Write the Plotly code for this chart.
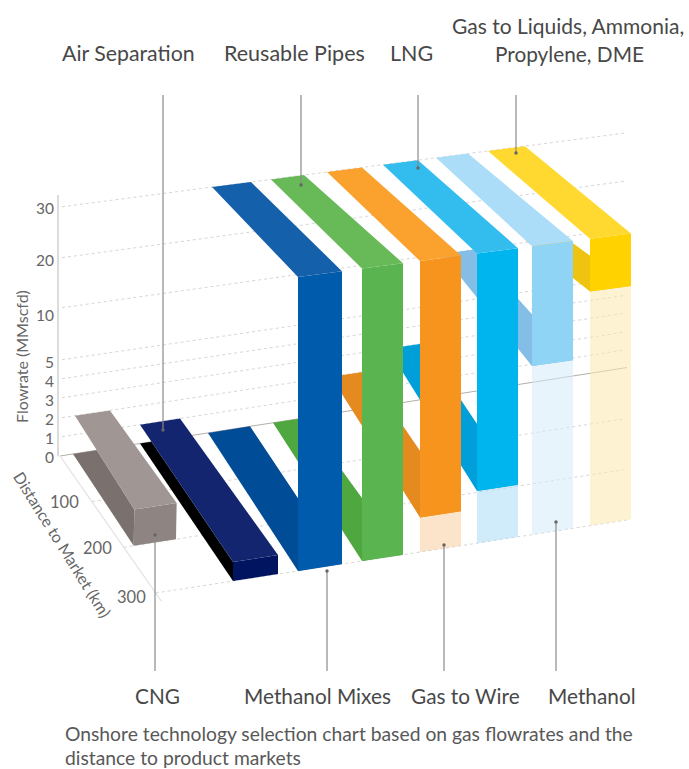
import numpy as np
import plotly.graph_objects as go

# ---- data ----
technologies = ["CNG", "Air Separation", "Methanol Mixes", "Reusable Pipes",
                "Gas to Wire", "LNG", "Methanol", "Gas to Liquids, Ammonia, Propylene, DME"]
flow_low = [0, 0, 0, 0, 2, 3, 10, 20]
flow_high = [2, 1, 30, 30, 30, 30, 30, 30]
distance_max = [200, 300, 300, 300, 300, 300, 300, 300]
flow_ticks = [0, 1, 2, 3, 4, 5, 10, 20, 30]
distance_ticks = [100, 200, 300]

# ---- layout of the oblique view (pixels of the 689x769 canvas) ----
BACK_H = [0, 19, 38, 58, 77, 96, 148, 198, 249]     # height of flow ticks on back wall
FRONT_H = [0, 19, 35, 53, 70, 88, 172, 240, 294]    # height of flow ticks on front plane
BACK_L_FLOOR = [73, 140, 208, 273, 331, 388, 442, 495]
BACK_L_TOP = [86, 140, 212, 271, 327, 383, 436, 488]
BACK_W = [35, 40, 39, 33, 35, 35, 32, 37]
LOW_BACK_L = [73, 140, 208, 273, 331, 388, 442, 476]
LOW_BACK_W = [35, 40, 42, 31, 35, 35, 32, 34]
LOW_START = [0, 0, 0, 0, 0, 0, 0, 130]              # km where the visible lower band begins
FRONT_L = [164, 233, 298, 362, 420, 477, 532, 590]
FRONT_W = [46, 45, 44, 41, 41, 41, 41, 41]
MAXD = 300.0

C_TOP = ["#A09693", "#14256F", "#1460AB", "#67BA57", "#FBA22E", "#33BDEE", "#ACDDF8", "#FFD930"]
C_FRONT = ["#8E8583", "#00145F", "#005BAC", "#5AB550", "#F7941D", "#00B5EE", "#8FD3F5", "#FFD200"]
C_LOW = ["#7A716E", "#000000", "#004C97", "#4EA73F", "#E58A1F", "#009FD9", "#84BDE5", "#EFC410"]
C_PALE = [None, None, None, None, "rgba(249,205,160,0.55)", "rgba(170,218,246,0.55)",
          "rgba(214,235,248,0.55)", "rgba(251,234,175,0.55)"]
LABEL = "#484848"
TICK = "#666666"
FONT = "Lato, 'Open Sans', sans-serif"


def floor_b(x): return 456 - 0.156 * (x - 60)
def floor_f(x): return 593 - 0.155 * (x - 155.7)
def scale_b(x): return 1 - (x - 60) / 565 * 0.057
def scale_f(x): return 1 - (x - 298) / 292 * 0.024
def hb(f): return np.interp(f, flow_ticks, BACK_H)
def hf(f): return np.interp(f, flow_ticks, FRONT_H)


def wall(xb, xf, d, f):
    t = d / MAXD
    yb = floor_b(xb) - hb(f) * scale_b(xb)
    yf = floor_f(xf) - hf(f) * scale_f(xf)
    return xb + t * (xf - xb), yb + t * (yf - yb)


def pt(i, side, d, f):
    """i = technology, side = 0 left edge / 1 right edge, d = km, f = MMscfd."""
    xb = BACK_L_FLOOR[i] + (BACK_L_TOP[i] - BACK_L_FLOOR[i]) * hb(f) / BACK_H[-1] + side * BACK_W[i]
    xf = FRONT_L[i] + side * FRONT_W[i]
    return wall(xb, xf, d, f)


def low_pt(i, side, d, f):
    xb = LOW_BACK_L[i] + side * LOW_BACK_W[i]
    xf = FRONT_L[i] + side * FRONT_W[i]
    return wall(xb, xf, d, f)


def crossing(a, b, c, d):
    ax, ay = a; bx, by = b; cx, cy = c; dx, dy = d
    den = (ax - bx) * (cy - dy) - (ay - by) * (cx - dx)
    s = ((ax - cx) * (cy - dy) - (ay - cy) * (cx - dx)) / den
    return ax + s * (bx - ax), ay + s * (by - ay)


fig = go.Figure()


def poly(points, color):
    xs = [p[0] for p in points] + [points[0][0]]
    ys = [p[1] for p in points] + [points[0][1]]
    fig.add_trace(go.Scatter(x=xs, y=ys, mode="lines", fill="toself", fillcolor=color,
                             line=dict(width=0, color=color), hoverinfo="skip", showlegend=False))


def line(x, y, color, width=1, dash="solid"):
    fig.add_trace(go.Scatter(x=x, y=y, mode="lines", line=dict(color=color, width=width, dash=dash),
                             hoverinfo="skip", showlegend=False))


# grid on the back wall
for f in flow_ticks[1:]:
    a = wall(62, 62, 0, f)
    b = wall(625, 625, 0, f)
    line([a[0], b[0]], [a[1], b[1]], "#d6d6d6", 1, "dot")
a = wall(60, 60, 0, 0)
b = wall(627, 627, 0, 0)
line([a[0], b[0]], [a[1], b[1]], "#b5aea6", 1)
# grid on the floor
for d in distance_ticks:
    a = wall(60, 155.7, d, 0)
    b = wall(625, 627, d, 0)
    line([a[0], b[0]], [a[1], b[1]], "#d6d6d6", 1, "dot")
# axes
a = wall(58, 58, 0, 0)
line([58, 58], [195, a[1]], "#c4c4c4", 1.2)
a = wall(60, 155.7, 0, 0)
b = wall(60, 155.7, 318, 0)
line([a[0], b[0]], [a[1], b[1]], "#e2e2e2", 1.2)

n = len(technologies)
# pale columns below each operating window
for i in range(n):
    if flow_low[i] > 0:
        poly([pt(i, 0, 300, 0), pt(i, 1, 300, 0), pt(i, 1, 300, flow_low[i]), pt(i, 0, 300, flow_low[i])], C_PALE[i])
# lower bands running back from the front plane
for i in range(n):
    d = distance_max[i]
    fl = flow_low[i]
    if flow_high[i] >= 30:
        s = LOW_START[i]
        poly([low_pt(i, 0, s, fl), low_pt(i, 1, s, fl), low_pt(i, 1, d, fl), low_pt(i, 0, d, fl)], C_LOW[i])
    else:
        t0 = pt(i, 0, 0, flow_high[i]); t1 = pt(i, 0, d, flow_high[i])
        f0 = pt(i, 0, 0, 0); f1 = pt(i, 1, 0, 0)
        poly([f0, crossing(t0, t1, f0, f1), t1, pt(i, 0, d, 0)], C_LOW[i])
# front faces
for i in range(n):
    d = distance_max[i]
    poly([pt(i, 0, d, flow_low[i]), pt(i, 1, d, flow_low[i]), pt(i, 1, d, flow_high[i]), pt(i, 0, d, flow_high[i])], C_FRONT[i])
# top bands
for i in range(n):
    d = distance_max[i]
    fh = flow_high[i]
    poly([pt(i, 0, 0, fh), pt(i, 1, 0, fh), pt(i, 1, d, fh), pt(i, 0, d, fh)], C_TOP[i])

# leader lines
leaders_top = [(163, 430), (301, 185), (418, 168), (516, 153)]
leaders_bottom = [(155, 535), (327, 571), (444, 545), (556, 522)]
for x, y in leaders_top:
    line([x, x], [95, y], "#8a8a8a", 1.2)
for x, y in leaders_bottom:
    line([x, x], [y, 671], "#8a8a8a", 1.2)
ends = leaders_top + leaders_bottom
fig.add_trace(go.Scatter(x=[e[0] for e in ends], y=[e[1] for e in ends], mode="markers",
                         marker=dict(size=3.5, color="#666666"), hoverinfo="skip", showlegend=False))

ann = []
def text(x, y, s, size=18, color=LABEL, anchor="center", angle=0):
    ann.append(dict(x=x, y=y, xref="x", yref="y", text=s, showarrow=False, textangle=angle,
                    xanchor=anchor, yanchor="middle",
                    font=dict(family=FONT, size=size, color=color)))

text(128, 53, "Air Separation", 21.3)
text(294.5, 53, "Reusable Pipes", 21.5)
text(411.5, 53, "LNG", 21.5)
text(568, 25, "Gas to Liquids, Ammonia,", 21)
text(569, 53, "Propylene, DME", 20.8)
text(157.5, 695, "CNG", 20.8)
text(317, 695, "Methanol Mixes", 20.8)
text(465, 695, "Gas to Wire", 20.8)
text(591.5, 695, "Methanol", 20.8)
text(63, 733.5, "Onshore technology selection chart based on gas flowrates and the", 19.3, "#585858", "left")
text(63, 757, "distance to product markets", 19.3, "#585858", "left")
tick_y = [457, 438, 419, 400, 381, 362, 315, 260, 208]
for f, y in zip(flow_ticks, tick_y):
    text(55.5, y, str(f), 15.5, TICK, "right")
for d, x, y in zip(distance_ticks, [64, 97, 131], [502, 548, 597]):
    text(x, y, str(d), 16.5, TICK)
text(21, 357, "Flowrate (MMscfd)", 16, TICK, angle=-90)
text(63, 544, "Distance to Market (km)", 16, TICK, angle=58)

fig.update_layout(
    width=689, height=769, margin=dict(l=0, r=0, t=0, b=0),
    paper_bgcolor="white", plot_bgcolor="white", showlegend=False, annotations=ann,
    xaxis=dict(range=[0, 689], visible=False, fixedrange=True),
    yaxis=dict(range=[769, 0], visible=False, fixedrange=True),
)
fig.write_html("out.html", config=dict(displayModeBar=False),
               post_script="document.body.style.margin='0';")
